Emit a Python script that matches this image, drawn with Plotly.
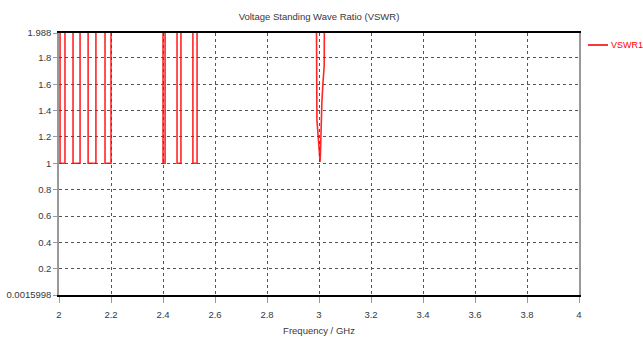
import plotly.graph_objects as go

# Frequency (GHz) and VSWR values
freq = [2.000, 2.004, 2.004, 2.023, 2.023, 2.054, 2.054, 2.081, 2.081,
        2.112, 2.112, 2.142, 2.142, 2.177, 2.177, 2.200, 2.200,
        2.400, 2.400, 2.408, 2.408, 2.454, 2.454, 2.469, 2.469,
        2.515, 2.515, 2.531, 2.531,
        2.988, 2.991, 2.992, 2.997, 3.001, 3.004, 3.006, 3.008, 3.011, 3.015, 3.020, 3.023,
        4.000]
vswr = [3.0, 3.0, 1.0, 1.0, 3.0, 3.0, 1.0, 1.0, 3.0,
        3.0, 1.0, 1.0, 3.0, 3.0, 1.0, 1.0, 3.0,
        3.0, 1.0, 1.0, 3.0, 3.0, 1.0, 1.0, 3.0,
        3.0, 1.0, 1.0, 3.0,
        3.0, 1.76, 1.33, 1.2, 1.05, 1.01, 1.1, 1.33, 1.46, 1.6, 1.74, 3.0,
        3.0]
series_name = "VSWR1"

y_tickvals = [0.0015998, 0.2, 0.4, 0.6, 0.8, 1.0, 1.2, 1.4, 1.6, 1.8, 1.988]
y_ticktext = ["0.0015998", "0.2", "0.4", "0.6", "0.8", "1", "1.2", "1.4", "1.6", "1.8", "1.988"]
x_tickvals = [2.0, 2.2, 2.4, 2.6, 2.8, 3.0, 3.2, 3.4, 3.6, 3.8, 4.0]
x_ticktext = ["2", "2.2", "2.4", "2.6", "2.8", "3", "3.2", "3.4", "3.6", "3.8", "4"]

FONT = "Liberation Sans, Arial, sans-serif"
TXT = "#383838"
RED = "#ff0000"

W, H = 643, 338
L, T = 59, 33
PW, PH = 520, 262
R = W - L - PW
B = H - T - PH

fig = go.Figure()
fig.add_trace(go.Scatter(
    x=freq, y=vswr, mode="lines", name=series_name, showlegend=False,
    line=dict(color="rgba(255,0,0,0.85)", width=1.6),
))

# legend sample (line + label) to the right of the plot
ly = (T + PH - 45) / PH
fig.add_shape(type="line", xref="paper", yref="paper",
              x0=(588 - L) / PW, x1=(608 - L) / PW, y0=ly, y1=ly,
              line=dict(color=RED, width=1.6))
fig.add_annotation(text=series_name, xref="paper", yref="paper",
                   x=(609 - L) / PW, y=ly, xanchor="left", yanchor="middle",
                   showarrow=False, font=dict(color=RED, size=9, family=FONT))

fig.update_layout(
    width=W, height=H,
    margin=dict(l=L, r=R, t=T, b=B, autoexpand=False),
    paper_bgcolor="white", plot_bgcolor="white",
    font=dict(family=FONT, size=9.5, color=TXT),
    title=dict(text="Voltage Standing Wave Ratio (VSWR)", x=319 / W, xanchor="center",
               y=1 - 17 / H, yanchor="middle",
               font=dict(size=9.5, color=TXT, family=FONT)),
    showlegend=False,
)

fig.update_xaxes(
    range=[2, 4], tickvals=x_tickvals, ticktext=x_ticktext,
    showgrid=True, gridcolor="#555555", griddash="dot", gridwidth=1,
    showline=True, linecolor="black", linewidth=1.5, mirror=True,
    ticks="outside", ticklen=6, tickcolor="#999999",
    ticklabelstandoff=4,
    zeroline=False, automargin=False,
    title=dict(text="Frequency / GHz", font=dict(size=9.5, family=FONT, color=TXT), standoff=8),
)
fig.update_yaxes(
    range=[0.0015998, 1.988], tickvals=y_tickvals, ticktext=y_ticktext,
    showgrid=True, gridcolor="#555555", griddash="dot", gridwidth=1,
    showline=True, linecolor="#999999", linewidth=1.5, mirror=True,
    ticks="outside", ticklen=4, tickcolor="#999999",
    zeroline=False, automargin=False,
)

fig.write_html("out.html", config={"displayModeBar": False},
               post_script="document.body.style.margin='0';")
